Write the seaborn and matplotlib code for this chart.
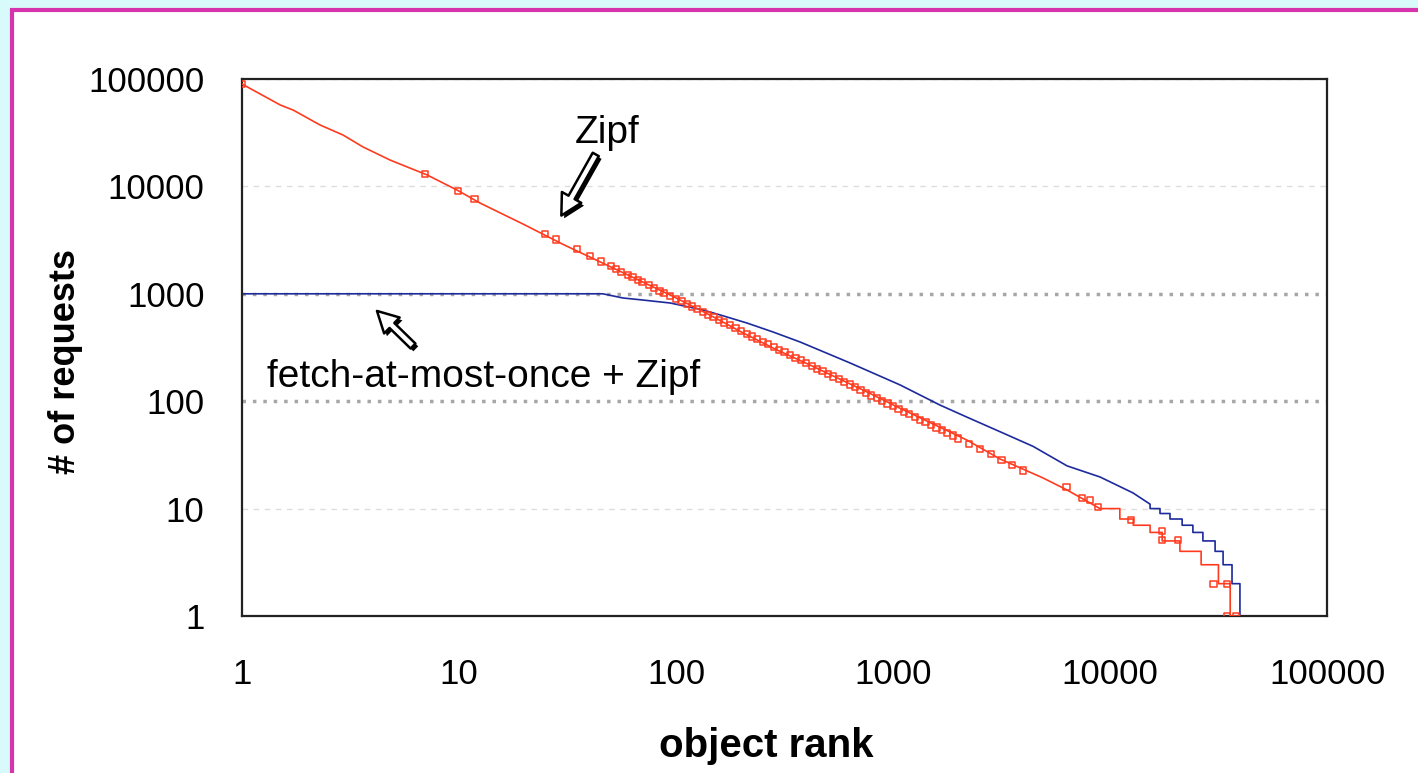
import matplotlib
matplotlib.use("Agg")
import matplotlib.pyplot as plt
import matplotlib.patheffects as pe
import seaborn as sns
from matplotlib.patches import Rectangle

# Zipf curve (rank, # of requests); tail is step-shaped
zipf_rank = [1, 1.5, 1.72, 2.29, 2.92, 3.61, 4.81, 5.95, 7.12, 9.79,
             12.5, 20, 30, 53.5, 94, 143, 204, 292, 415, 759,
             1077, 2190, 3110, 4910, 6340, 8990,
             11100, 11100, 12800, 12800, 15300, 15300, 17400, 17400, 21000, 21000,
             26300, 26300, 31600, 31600, 35800, 35800, 39700]
zipf_reqs = [89800, 57300, 51400, 37300, 30100, 23300, 17600, 14800, 12800, 9250,
             7000, 4400, 2900, 1670, 975, 635, 432, 300, 217, 122,
             86, 43.5, 29, 19.3, 14.9, 10,
             10, 8, 8, 7, 7, 6, 6, 5, 5, 4,
             4, 3, 3, 2, 2, 1, 1]

# hollow square markers on the Zipf curve
mark_rank = [1, 7.0, 9.9, 11.8, 25, 28, 35, 40, 45,
             50, 53, 56, 60, 63, 67, 70, 75, 79, 84, 88, 94, 100, 106, 112, 119, 125,
             133, 140, 149, 158, 167, 177, 188, 200, 212, 224, 237, 251, 266,
             282, 299, 316, 335, 355, 376, 398, 422, 447, 473, 501, 531, 562, 596,
             631, 668, 708, 750, 794, 841, 891, 944, 1000, 1059, 1122, 1189,
             1259, 1334, 1413, 1496, 1585, 1679, 1778, 1884, 1995, 2239, 2512, 2818,
             3162, 3548, 3981,
             6300, 7400, 8100, 8800, 12500, 17300, 17300, 20500, 30000, 34600, 34600, 38000]
mark_reqs = [89800, 13000, 9000, 7600, 3600, 3200, 2600, 2250, 2000,
             1800, 1700, 1600, 1500, 1430, 1340, 1290, 1200, 1140, 1070, 1020, 960, 900,
             850, 800, 760, 720,
             680, 640, 605, 570, 540, 510, 480, 450, 425, 400, 380, 358, 338,
             320, 301, 285, 269, 254, 240, 226, 213, 201, 190, 180, 170, 160, 151,
             143, 135, 127, 120, 113, 107, 101, 95, 90, 85, 80, 76,
             71, 67, 64, 60, 57, 54, 51, 48, 45, 40, 36, 32,
             28.5, 25.4, 22.6,
             15.9, 12.5, 12, 10.3, 7.8, 6.2, 5.1, 5.1, 2.0, 2.0, 1, 1]

# fetch-at-most-once + Zipf curve
fetch_rank = [1, 46, 57, 70, 94, 133, 160, 212, 280, 373,
              634, 1076, 1647, 2194, 3112, 4418, 6339, 8993, 12760, 15300,
              15300, 17000, 17000, 18900, 18900, 21500, 21500, 24100, 24100, 26800,
              26800, 30500, 30500, 33200, 33200, 36500, 36500, 39700, 39700, 40600]
fetch_reqs = [1000, 1000, 914, 876, 821, 707, 635, 535, 441, 356,
              227, 142, 92, 71, 52, 38, 25, 19.7, 14, 11,
              10, 10, 9, 9, 8, 8, 7, 7, 6, 6,
              5, 5, 4, 4, 3, 3, 2, 2, 1, 1]

ticks = [1, 10, 100, 1000, 10000, 100000]
tick_labels = ["1", "10", "100", "1000", "10000", "100000"]
light_grid = [10, 10000, 100000]
dark_grid = [100, 1000]

RED = "#ff3b1f"
BLUE = "#1c2a9c"

sns.set_style("white")
plt.rcParams["font.family"] = ["Liberation Sans", "DejaVu Sans"]
plt.rcParams["text.color"] = "black"
plt.rcParams["axes.labelcolor"] = "black"

fig = plt.figure(figsize=(14.18, 7.73), dpi=100, facecolor="#d9fafa")
fig.patches.append(Rectangle((12 / 1418, -0.1), 1.2, 1.1 - 10 / 773,
                             transform=fig.transFigure, facecolor="white",
                             edgecolor="#d634ad", linewidth=3, zorder=-5))
ax = fig.add_axes([242 / 1418, 1 - 616 / 773, 1085 / 1418, 537 / 773])
ax.set_facecolor("white")

for g in light_grid:
    ax.axhline(g, color="#dddddd", lw=1, ls=(0, (4, 4)), zorder=0)
for g in dark_grid:
    ax.axhline(g, color="#a6a6a6", lw=2.5, ls=(0, (1, 2)), zorder=0)

sns.lineplot(x=fetch_rank, y=fetch_reqs, estimator=None, sort=False,
             color=BLUE, linewidth=1.2, ax=ax, zorder=2)
sns.lineplot(x=zipf_rank, y=zipf_reqs, estimator=None, sort=False,
             color=RED, linewidth=1.2, ax=ax, zorder=3)
sns.scatterplot(x=mark_rank, y=mark_reqs, marker="s", s=20, color=RED,
                facecolor="none", edgecolor=RED, linewidth=1.1, ax=ax, zorder=4)

ax.set_xscale("log")
ax.set_yscale("log")
ax.set_xlim(1, 100000)
ax.set_ylim(1, 100000)
ax.set_xticks(ticks)
ax.set_xticklabels(tick_labels)
ax.set_yticks(ticks)
ax.set_yticklabels(tick_labels)
ax.minorticks_off()
ax.tick_params(axis="both", direction="out", length=9, width=1.3, color="black",
               labelsize=25, labelcolor="black")
ax.tick_params(axis="x", pad=21)
ax.tick_params(axis="y", pad=18)
for s in ax.spines.values():
    s.set_visible(True)
    s.set_color("#222222")
    s.set_linewidth(1.6)

ax.set_xlabel("object rank", fontsize=29, fontweight="bold")
ax.set_ylabel("# of requests", fontsize=26, fontweight="bold")
ax.xaxis.set_label_coords(0.483, -0.206)
ax.yaxis.set_label_coords(-0.147, 0.473)

arrow = dict(arrowstyle="simple,head_length=0.75,head_width=0.8,tail_width=0.25",
             facecolor="white", edgecolor="black", lw=1.8, mutation_scale=20,
             path_effects=[pe.withSimplePatchShadow(offset=(2, -2), shadow_rgbFace="black",
                                                    alpha=1.0)])
ax.annotate("", xy=(29.2, 5080), xytext=(43.3, 20900), arrowprops=arrow)
ax.annotate("", xy=(4.1, 722), xytext=(6.27, 313), arrowprops=arrow)
ax.text(48, 31400, "Zipf", fontsize=28, ha="center", va="center")
ax.text(13.0, 168, "fetch-at-most-once + Zipf", fontsize=28, ha="center", va="center")

fig.savefig("out.png", dpi=100)
